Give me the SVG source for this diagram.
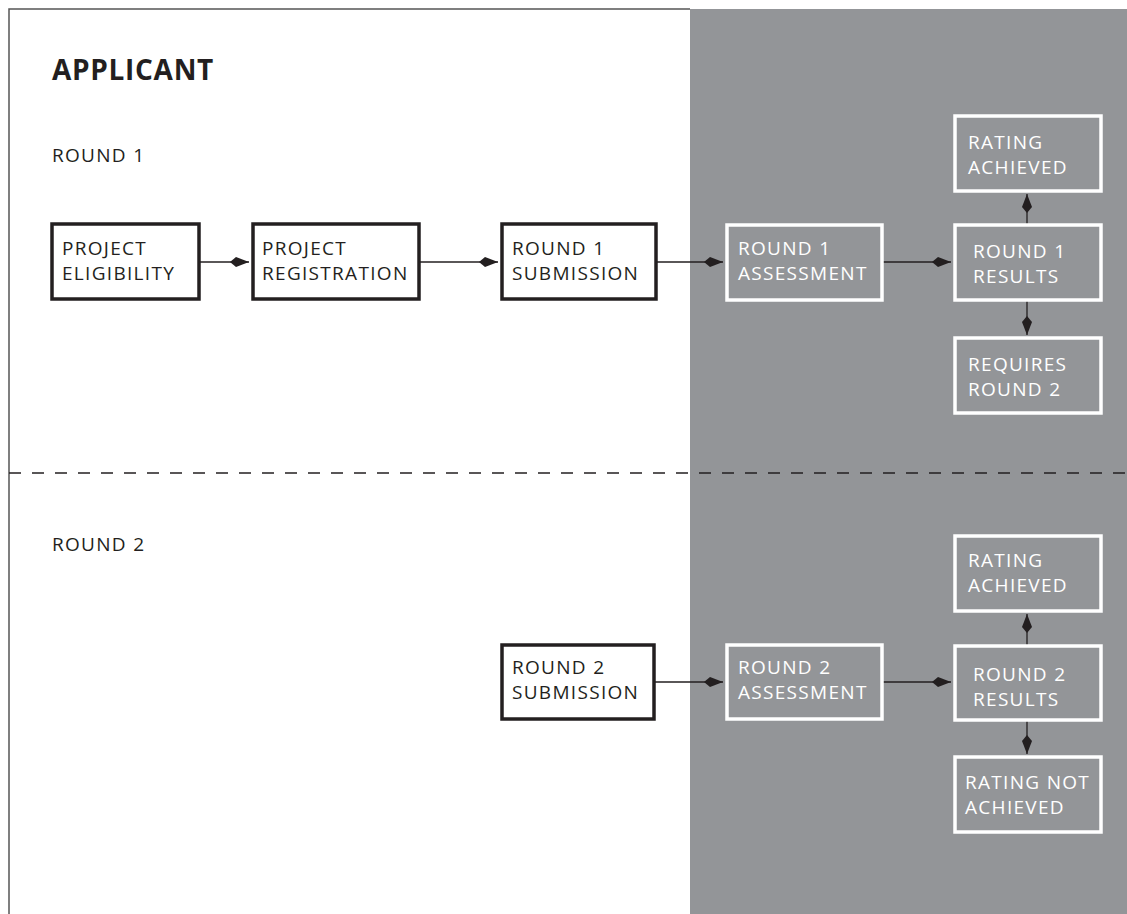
<svg xmlns="http://www.w3.org/2000/svg" width="1127" height="914" viewBox="0 0 1127 914">
<style>
  .lbl{font-family:"Open Sans","Noto Sans","Liberation Sans",sans-serif;font-size:19px;letter-spacing:1.3px;}
  .dark{fill:#231f20;}
  .light{fill:#ffffff;}
  .wbox{fill:#ffffff;stroke:#231f20;stroke-width:3.5;}
  .gbox{fill:#939598;stroke:#ffffff;stroke-width:3.5;}
  .conn{stroke:#231f20;stroke-width:1.3;fill:none;marker-end:url(#ah);}
</style>
<defs>
  <marker id="ah" markerUnits="userSpaceOnUse" markerWidth="19" markerHeight="11" refX="19" refY="5.5" orient="auto">
    <path d="M0,5.5 L6,0.5 L19,5.5 L6,10.5 Z" fill="#231f20"/>
  </marker>
</defs>
<rect x="0" y="0" width="1127" height="914" fill="#ffffff"/>
<rect x="690" y="9" width="437" height="905" fill="#939598"/>
<path d="M9,914 V9 H690" fill="none" stroke="#555555" stroke-width="1.5"/>
<line x1="9" y1="473" x2="1127" y2="473" stroke="#231f20" stroke-width="1.5" stroke-dasharray="12,11"/>
<text x="52" y="80" class="dark" style="font-family:'Open Sans','Noto Sans','Liberation Sans',sans-serif;font-size:28px;font-weight:bold;letter-spacing:0.7px">APPLICANT</text>
<text x="52" y="162" class="lbl dark">ROUND 1</text>
<text x="52" y="551" class="lbl dark">ROUND 2</text>
<g id="connectors">
  <line class="conn" x1="199" y1="262" x2="249" y2="262"/>
  <line class="conn" x1="419" y1="262" x2="498" y2="262"/>
  <line class="conn" x1="656" y1="262" x2="723" y2="262"/>
  <line class="conn" x1="882" y1="262" x2="951" y2="262"/>
  <line class="conn" x1="1027" y1="224" x2="1027" y2="194"/>
  <line class="conn" x1="1027" y1="300" x2="1027" y2="335"/>
  <line class="conn" x1="654" y1="682" x2="723" y2="682"/>
  <line class="conn" x1="882" y1="682" x2="951" y2="682"/>
  <line class="conn" x1="1027" y1="645" x2="1027" y2="614"/>
  <line class="conn" x1="1027" y1="720" x2="1027" y2="754"/>
</g>
<g id="project-eligibility">
  <rect class="wbox" x="52" y="224" width="147" height="75"/>
  <text class="lbl dark" x="62" y="255">PROJECT</text>
  <text class="lbl dark" x="62" y="280">ELIGIBILITY</text>
</g>
<g id="project-registration">
  <rect class="wbox" x="253" y="224" width="166" height="75"/>
  <text class="lbl dark" x="262" y="255">PROJECT</text>
  <text class="lbl dark" x="262" y="280">REGISTRATION</text>
</g>
<g id="round1-submission">
  <rect class="wbox" x="502" y="224" width="154" height="75"/>
  <text class="lbl dark" x="512" y="255">ROUND 1</text>
  <text class="lbl dark" x="512" y="280">SUBMISSION</text>
</g>
<g id="round1-assessment">
  <rect class="gbox" x="727" y="225" width="155" height="75"/>
  <text class="lbl light" x="738" y="255">ROUND 1</text>
  <text class="lbl light" x="738" y="280">ASSESSMENT</text>
</g>
<g id="round1-rating-achieved">
  <rect class="gbox" x="955" y="116" width="146" height="75"/>
  <text class="lbl light" x="968" y="149">RATING</text>
  <text class="lbl light" x="968" y="174">ACHIEVED</text>
</g>
<g id="round1-results">
  <rect class="gbox" x="955" y="225" width="146" height="75"/>
  <text class="lbl light" x="973" y="258">ROUND 1</text>
  <text class="lbl light" x="973" y="283">RESULTS</text>
</g>
<g id="requires-round2">
  <rect class="gbox" x="955" y="338" width="146" height="75"/>
  <text class="lbl light" x="968" y="371">REQUIRES</text>
  <text class="lbl light" x="968" y="396">ROUND 2</text>
</g>
<g id="round2-submission">
  <rect class="wbox" x="502" y="645" width="152" height="74"/>
  <text class="lbl dark" x="512" y="674">ROUND 2</text>
  <text class="lbl dark" x="512" y="699">SUBMISSION</text>
</g>
<g id="round2-assessment">
  <rect class="gbox" x="727" y="645" width="155" height="74"/>
  <text class="lbl light" x="738" y="674">ROUND 2</text>
  <text class="lbl light" x="738" y="699">ASSESSMENT</text>
</g>
<g id="round2-rating-achieved">
  <rect class="gbox" x="955" y="536" width="146" height="75"/>
  <text class="lbl light" x="968" y="567">RATING</text>
  <text class="lbl light" x="968" y="592">ACHIEVED</text>
</g>
<g id="round2-results">
  <rect class="gbox" x="955" y="646" width="146" height="74"/>
  <text class="lbl light" x="973" y="681">ROUND 2</text>
  <text class="lbl light" x="973" y="706">RESULTS</text>
</g>
<g id="rating-not-achieved">
  <rect class="gbox" x="955" y="757" width="146" height="75"/>
  <text class="lbl light" x="965" y="789">RATING NOT</text>
  <text class="lbl light" x="965" y="814">ACHIEVED</text>
</g>
</svg>
